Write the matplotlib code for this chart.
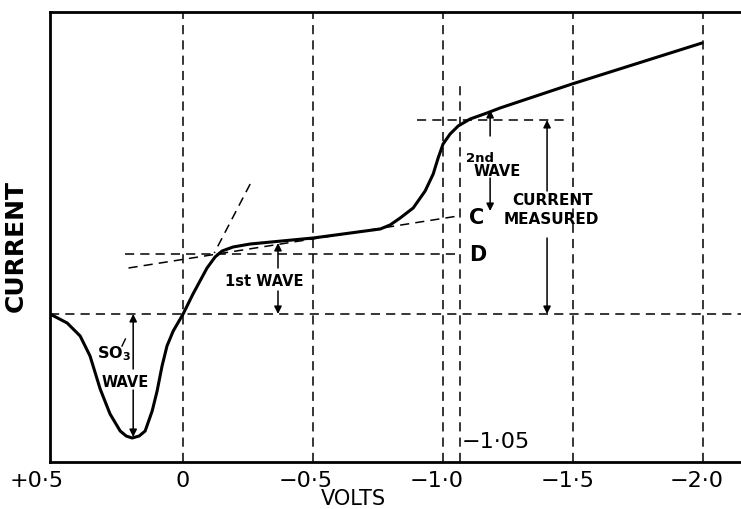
import matplotlib
matplotlib.use("Agg")
import matplotlib.pyplot as plt
from matplotlib.transforms import ScaledTranslation

# ---- data ----
volts = [0.512, 0.446, 0.396, 0.358, 0.319, 0.281, 0.242, 0.219, 0.196, 0.169, 0.146,
         0.119, 0.100, 0.081, 0.062, 0.038, 0.0, -0.038, -0.092, -0.123, -0.150,
         -0.192, -0.258, -0.500, -0.758, -0.796, -0.835, -0.885, -0.931, -0.962,
         -0.981, -1.000, -1.027, -1.058, -1.104, -1.169, -1.219, -1.496, -1.996]
current = [1.48, 1.39, 1.26, 1.06, 0.73, 0.48, 0.31, 0.26, 0.24, 0.26, 0.31,
           0.51, 0.71, 0.96, 1.16, 1.31, 1.48, 1.68, 1.94, 2.05, 2.11,
           2.15, 2.18, 2.24, 2.33, 2.37, 2.44, 2.54, 2.71, 2.88,
           3.04, 3.18, 3.28, 3.36, 3.43, 3.49, 3.54, 3.78, 4.19]

grid_volts = [0.0, -0.5, -1.0, -1.5, -2.0]
half_wave_volt = -1.065          # the "-1.05" line as drawn
half_wave_top = 3.76
tick_volts = [0.5, 0.0, -0.5, -1.0, -1.5, -2.0]
tick_labels = ["+0·5", "0", "−0·5", "−1·0", "−1·5", "−2·0"]
tick_shift_in = [-0.16, 0.0, -0.07, -0.06, -0.05, -0.06]

baseline = 1.48                  # zero-current level
level_D = 2.08
level_top = 3.42
D_span = [0.223, -1.06]
top_span = [-0.90, -1.48]

plateau_tangent_v = [0.21, -1.058]
plateau_tangent_i = [1.94, 2.46]
rise_tangent_v = [-0.258, -0.12]
rise_tangent_i = [2.78, 2.09]

# ---- figure ----
fig = plt.figure(figsize=(7.41, 5.10), dpi=100)
ax = fig.add_axes([50 / 741, 47 / 510, 691 / 741, 450 / 510])
ax.set_xlim(0.512, -2.146)
ax.set_ylim(0, 4.50)

for s in ["left", "top", "bottom"]:
    ax.spines[s].set_linewidth(2.0)
ax.spines["right"].set_visible(False)

dash = dict(color="black", lw=1.1, linestyle=(0, (6, 4)))

for v in grid_volts:
    ax.axvline(v, **dash)
ax.axvline(half_wave_volt, ymax=half_wave_top / 4.50, **dash)
ax.axhline(baseline, **dash)
ax.hlines(level_D, D_span[0], D_span[1], **dash)
ax.hlines(level_top, top_span[0], top_span[1], **dash)
ax.plot(plateau_tangent_v, plateau_tangent_i, **dash)
ax.plot(rise_tangent_v, rise_tangent_i, **dash)

ax.plot(volts, current, color="black", lw=2.2, solid_capstyle="round",
        solid_joinstyle="round")

# ticks
ax.set_yticks([])
ax.set_xticks(tick_volts)
ax.set_xticklabels(tick_labels, fontsize=16)
ax.tick_params(axis="x", length=0, pad=6)
for lab, dx in zip(ax.get_xticklabels(), tick_shift_in):
    lab.set_transform(lab.get_transform() + ScaledTranslation(dx, 0, fig.dpi_scale_trans))

ax.set_xlabel("VOLTS", fontsize=15)
ax.xaxis.set_label_coords(0.4385, -0.058)
ax.set_ylabel("CURRENT", fontsize=18, fontweight="bold")
ax.yaxis.set_label_coords(-0.032, 0.482)

arrow = dict(arrowstyle="-|>", color="black", lw=1.1, mutation_scale=11,
             shrinkA=0, shrinkB=0)
def arr(x, y0, y1):
    ax.annotate("", xy=(x, y1), xytext=(x, y0), arrowprops=arrow)

# SO3 wave
arr(0.192, 0.93, baseline)
arr(0.192, 0.72, 0.25)
ax.text(0.265, 1.09, "SO$_\\mathbf{3}$", fontsize=11.5, fontweight="bold", ha="center", va="center")
ax.text(0.223, 0.80, "WAVE", fontsize=10.5, fontweight="bold", ha="center", va="center")
ax.plot([0.235, 0.222], [1.16, 1.23], color="black", lw=1.0)

# 1st wave
arr(-0.365, 1.94, 2.19)
arr(-0.365, 1.71, baseline)
ax.text(-0.312, 1.81, "1st WAVE", fontsize=10.5, fontweight="bold", ha="center", va="center")

# 2nd wave
arr(-1.181, 3.26, 3.52)
arr(-1.181, 2.84, 2.51)
ax.text(-1.142, 3.05, "2nd", fontsize=9.5, fontweight="bold", ha="center", va="center")
ax.text(-1.208, 2.91, "WAVE", fontsize=10.5, fontweight="bold", ha="center", va="center")

# current measured
arr(-1.40, 2.71, level_top)
arr(-1.40, 2.24, baseline)
ax.text(-1.423, 2.62, "CURRENT", fontsize=11, fontweight="bold", ha="center", va="center")
ax.text(-1.415, 2.43, "MEASURED", fontsize=11, fontweight="bold", ha="center", va="center")

ax.text(-1.10, 2.45, "C", fontsize=15, fontweight="bold", ha="left", va="center")
ax.text(-1.10, 2.08, "D", fontsize=15, fontweight="bold", ha="left", va="center")
ax.text(-1.073, 0.21, "−1·05", fontsize=16, ha="left", va="center")

fig.savefig("out.png", dpi=100)
